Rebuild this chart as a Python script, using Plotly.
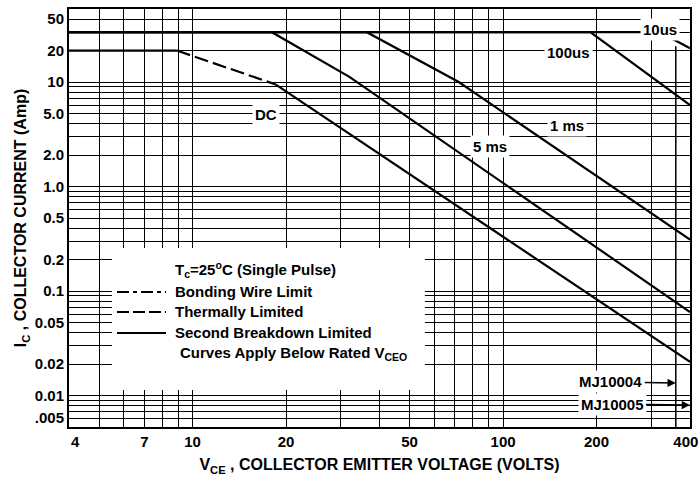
import numpy as np
import plotly.graph_objects as go

# ---------------- data ----------------
x_tick_vals = [4, 7, 10, 20, 50, 100, 200, 400]
x_tick_text = ["&nbsp;&nbsp;&nbsp;4", "7", "10", "20", "50", "100", "200",
               "400&nbsp;&nbsp;"]
x_minor_grid = [5, 6, 8, 9, 30, 40, 60, 70, 80, 90, 300]

y_tick_vals = [50, 20, 10, 5, 2, 1, 0.5, 0.2, 0.1, 0.05, 0.02, 0.01, 0.005]
y_tick_text = ["&nbsp;<br>50", "20", "10", "5.0", "2.0", "1.0", "0.5", "0.2",
               "0.1", "0.05", "0.02", "0.01", ".005<br>&nbsp;"]
y_minor_grid = [40, 30, 9, 8, 7, 6, 4, 3, 0.9, 0.8, 0.7, 0.6, 0.4, 0.3,
                0.09, 0.08, 0.07, 0.06, 0.04, 0.03,
                0.009, 0.008, 0.007, 0.006]

# DC curve: bonding-wire flat, thermal (dashed), second breakdown
dc_flat_v = [4, 8.9]
dc_flat_i = [20, 20]
dc_thermal_v = [8.9, 18.5]
dc_thermal_i = [20, 9.5]
dc_sb_v = [18.5, 400]
dc_sb_i = [9.5, 0.021]

# pulse curves
ms5_v = [4, 18, 32, 400]
ms5_i = [30, 30, 11.2, 0.063]
ms1_v = [4, 36.4, 72, 400]
ms1_i = [30, 30, 10, 0.31]
us100_v = [4, 191, 400]
us100_i = [30, 30, 6.0]
us10_v = [4, 320, 400]
us10_i = [30, 30, 21]

# rated VCEO marker line (MJ10004)
mj10004_v = [360, 360]
mj10004_i = [0.005, 22]

# blank region behind the legend text
blank_v = [5.5, 56]
blank_i = [0.0113, 0.258]

curve_labels = ["DC", "5 ms", "1 ms", "100us", "10us"]
curve_label_v = [17.2, 90.8, 160.7, 163, 321]
curve_label_i = [4.94, 2.44, 3.8, 19.0, 31.5]

part_labels = ["MJ10004", "MJ10005"]
part_arrow_v = [360, 400]
part_arrow_i = [0.0132, 0.0081]

FONT = "Liberation Sans, Arial, sans-serif"
BLACK = "#000000"

fig = go.Figure()

# white blank area behind the legend text (hides the grid there)
fig.add_trace(go.Scatter(
    x=[blank_v[0], blank_v[1], blank_v[1], blank_v[0], blank_v[0]],
    y=[blank_i[0], blank_i[0], blank_i[1], blank_i[1], blank_i[0]],
    mode="lines", fill="toself", fillcolor="white",
    line=dict(width=0, color="white"), hoverinfo="skip", showlegend=False))

def add_line(v, i, dash="solid", width=2.2):
    fig.add_trace(go.Scatter(x=v, y=i, mode="lines",
                             line=dict(color=BLACK, width=width, dash=dash),
                             hoverinfo="skip", showlegend=False))

add_line(dc_flat_v, dc_flat_i)
add_line(dc_thermal_v, dc_thermal_i, dash="14px,5px")
add_line(dc_sb_v, dc_sb_i)
add_line(ms5_v, ms5_i)
add_line(ms1_v, ms1_i)
add_line(us100_v, us100_i)
add_line(us10_v, us10_i)
add_line(mj10004_v, mj10004_i, width=1.5)

annotations = []
for t, v, i in zip(curve_labels, curve_label_v, curve_label_i):
    annotations.append(dict(
        x=np.log10(v), y=np.log10(i), xref="x", yref="y", text=t,
        showarrow=False, bgcolor="white", borderpad=2,
        font=dict(family=FONT, size=15, color=BLACK, weight="bold")))

for t, v, i, ax in zip(part_labels, part_arrow_v, part_arrow_i, [-65, -78]):
    annotations.append(dict(
        x=np.log10(v), y=np.log10(i), xref="x", yref="y", text=t,
        showarrow=True, ax=ax, ay=-1, arrowhead=2, arrowsize=1.1,
        arrowwidth=1.5, arrowcolor=BLACK, bgcolor="white", borderpad=2,
        standoff=0,
        font=dict(family=FONT, size=15, color=BLACK, weight="bold")))

# legend-style text block
def px_x(px):
    return (px - 69) / 621.0

def px_y(py):
    return (427 - py) / 418.0

legend_rows = [
    ("T<sub>c</sub>=25<sup>o</sup>C (Single Pulse)", 173, 269),
    ("Bonding Wire Limit", 173, 291),
    ("Thermally Limited", 173, 311),
    ("Second Breakdown Limited", 173, 332),
    ("Curves Apply Below Rated V<sub>CEO</sub>", 178, 353),
]
for t, px, py in legend_rows:
    annotations.append(dict(
        x=px_x(px), y=px_y(py), xref="paper", yref="paper", text=t,
        xanchor="left", yanchor="middle", showarrow=False,
        font=dict(family=FONT, size=15, color=BLACK, weight="bold")))

shapes = []
for py, dash in [(292, "12px,4px,4px,4px"), (312, "12px,4px"), (333, "solid")]:
    shapes.append(dict(type="line", xref="paper", yref="paper",
                       x0=px_x(117), x1=px_x(166), y0=px_y(py), y1=px_y(py),
                       line=dict(color=BLACK, width=2, dash=dash), layer="above"))

fig.update_layout(
    width=699, height=481,
    margin=dict(l=69, r=9, t=9, b=54, autoexpand=False),
    paper_bgcolor="white", plot_bgcolor="white",
    showlegend=False,
    annotations=annotations, shapes=shapes,
    font=dict(family=FONT, color=BLACK),
)

fig.update_xaxes(
    type="log", range=[np.log10(4), np.log10(400)],
    tickmode="array", tickvals=x_tick_vals, ticktext=x_tick_text,
    tickfont=dict(family=FONT, size=15, color=BLACK, weight="bold"),
    ticklabeloverflow="allow",
    ticks="", showgrid=True, gridcolor=BLACK, gridwidth=1,
    minor=dict(tickmode="array", tickvals=x_minor_grid, showgrid=True,
               gridcolor=BLACK, gridwidth=1, ticks=""),
    showline=True, linecolor=BLACK, linewidth=2, mirror=True,
    zeroline=False, automargin=False,
    title=dict(text="V<sub>CE</sub> , COLLECTOR EMITTER VOLTAGE (VOLTS)",
               font=dict(family=FONT, size=16, color=BLACK, weight="bold"),
               standoff=10),
)

fig.update_yaxes(
    type="log", range=[np.log10(0.005), np.log10(50)],
    tickmode="array", tickvals=y_tick_vals, ticktext=y_tick_text,
    tickfont=dict(family=FONT, size=15, color=BLACK, weight="bold"),
    ticklabeloverflow="allow",
    ticks="", showgrid=True, gridcolor=BLACK, gridwidth=1,
    minor=dict(tickmode="array", tickvals=y_minor_grid, showgrid=True,
               gridcolor=BLACK, gridwidth=1, ticks=""),
    showline=True, linecolor=BLACK, linewidth=2, mirror=True,
    zeroline=False, automargin=False,
    title=dict(text="I<sub>C</sub> , COLLECTOR CURRENT (Amp)",
               font=dict(family=FONT, size=16, color=BLACK, weight="bold"),
               standoff=4),
)

fig.write_html(
    "out.html",
    config={"displayModeBar": False},
    post_script="document.body.style.margin='0';document.body.style.padding='0';",
)
